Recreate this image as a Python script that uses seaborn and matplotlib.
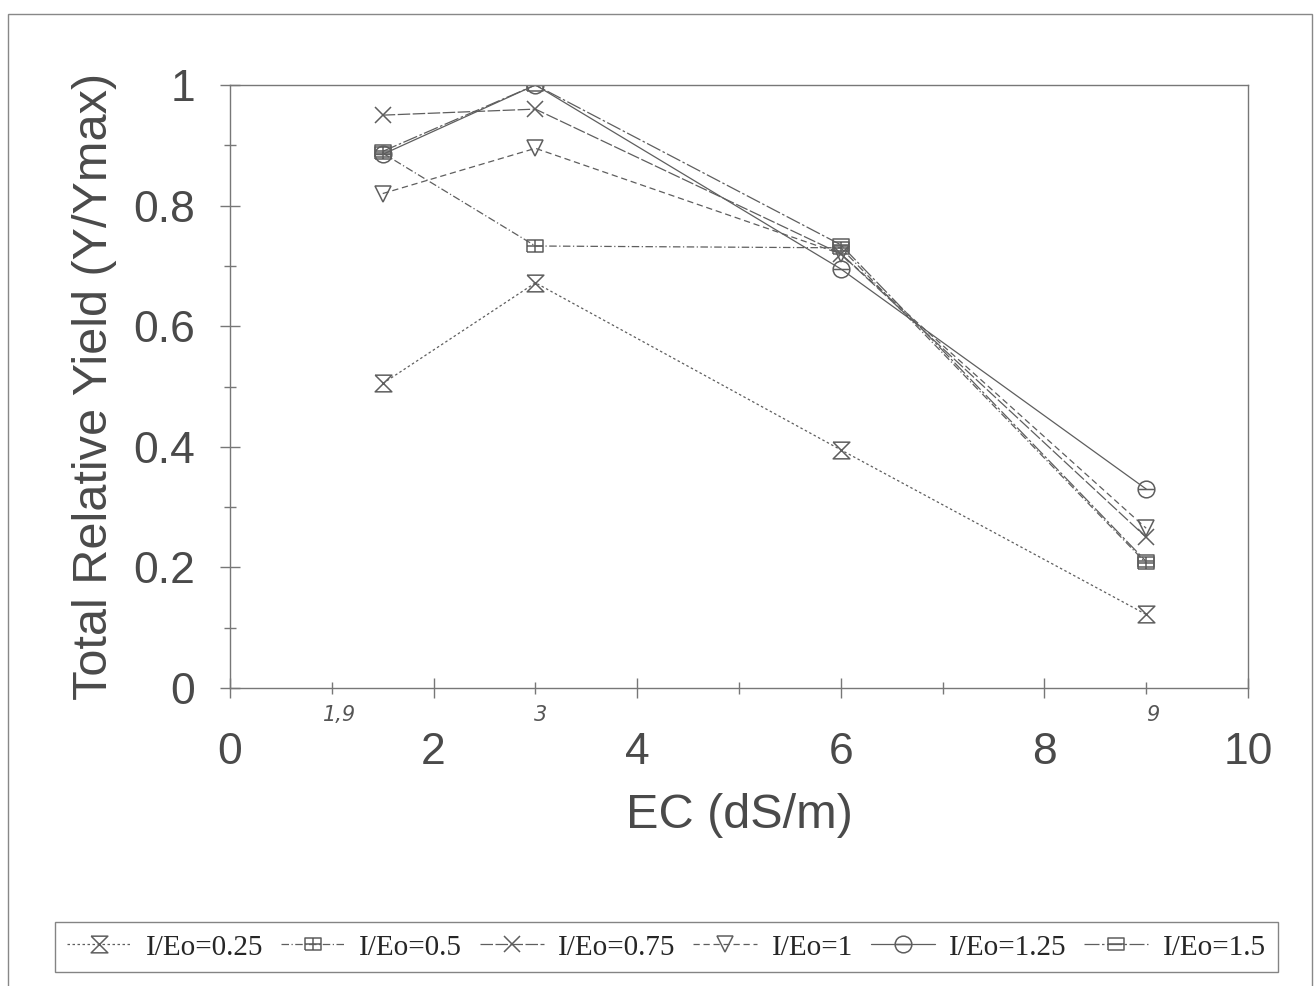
import numpy as np
import pandas as pd
import matplotlib
matplotlib.use("Agg")
import matplotlib.pyplot as plt
from matplotlib.path import Path
from matplotlib.patches import Rectangle
import seaborn as sns

# values
ec = [1.5, 3, 6, 9]
series_names = ["I/Eo=0.25", "I/Eo=0.5", "I/Eo=0.75", "I/Eo=1", "I/Eo=1.25", "I/Eo=1.5"]
y_025 = [0.505, 0.672, 0.395, 0.122]
y_050 = [0.887, 0.733, 0.730, 0.207]
y_075 = [0.950, 0.960, 0.720, 0.250]
y_100 = [0.820, 0.895, 0.720, 0.265]
y_125 = [0.885, 1.000, 0.695, 0.330]
y_150 = [0.890, 1.000, 0.735, 0.210]

data = pd.DataFrame({
    "EC": ec * 6,
    "yield": y_025 + y_050 + y_075 + y_100 + y_125 + y_150,
    "series": np.repeat(series_names, len(ec)),
})

# marker shapes from the original scan
M, L = Path.MOVETO, Path.LINETO
hourglass = Path([(-1, 1), (1, 1), (-1, -1), (1, -1), (-1, 1)], [M, L, L, L, L])
sq = [(-1, -0.75), (1, -0.75), (1, 0.75), (-1, 0.75), (-1, -0.75)]
sq_cross = Path(sq + [(-1, 0), (1, 0), (0, -0.75), (0, 0.75)],
                [M, L, L, L, L, M, L, M, L])
sq_line = Path(sq + [(-1, 0), (1, 0)], [M, L, L, L, L, M, L])
circ = Path.make_compound_path(Path.unit_circle(), Path([(-1, 0), (1, 0)], [M, L]))

markers = [hourglass, sq_cross, "x", "v", circ, sq_line]
styles = [(0, (2, 2)), (0, (6, 2, 1, 2)), (0, (10, 2)), (0, (5, 3)), "-", (0, (12, 2, 2, 2))]
ink = "#5e5e5e"

sns.set_style("white")
fig = plt.figure(figsize=(13.16, 9.86), dpi=100)
ax = fig.add_axes([0.1748, 0.3022, 0.7735, 0.6116])

for name, mk, ls in zip(series_names, markers, styles):
    sns.lineplot(data=data[data["series"] == name], x="EC", y="yield", ax=ax,
                 color=ink, linewidth=0.9, linestyle=ls, marker=mk,
                 markersize=12, markerfacecolor="none", markeredgecolor=ink,
                 markeredgewidth=1.1, errorbar=None, legend=False)

ax.set_xlim(0, 10)
ax.set_ylim(0, 1)
ax.set_xticks([0, 2, 4, 6, 8, 10])
ax.set_xticks(range(11), minor=True)
ax.set_yticks([0, 0.2, 0.4, 0.6, 0.8, 1])
ax.set_yticklabels(["0", "0.2", "0.4", "0.6", "0.8", "1"])
ax.set_yticks(np.arange(0, 1.01, 0.1), minor=True)
ax.tick_params(which="both", bottom=True, left=True, direction="inout", colors="#777777",
               width=1, labelsize=32, labelcolor="#4a4a4a")
ax.tick_params(which="major", length=14, pad=18)
ax.tick_params(which="minor", length=8)
ax.tick_params(axis="x", which="major", pad=25)
for lab in ax.get_xticklabels() + ax.get_yticklabels():
    lab.set_fontfamily("Liberation Sans")
for sp in ax.spines.values():
    sp.set_color("#777777")
    sp.set_linewidth(1.0)

ax.set_xlabel("EC (dS/m)", fontsize=35, family="Liberation Sans", color="#4a4a4a", labelpad=14)
ax.set_ylabel("Total Relative Yield (Y/Ymax)", fontsize=35, family="Liberation Sans",
              color="#4a4a4a", labelpad=12)

# handwritten notes on the scan
for xv, txt in [(1.08, "1,9"), (3.05, "3"), (9.06, "9")]:
    ax.text(xv, -0.045, txt, fontsize=15, color="#555555", ha="center", va="center",
            style="italic", family="DejaVu Sans", clip_on=False)

handles = ax.get_lines()[:6]
fig.legend(handles, series_names, loc="lower left", ncol=6, mode="expand",
           bbox_to_anchor=(0.042, 0.014, 0.929, 0.055), frameon=True, fancybox=False,
           edgecolor="#666666", handlelength=2.2, handletextpad=0.5,
           prop={"family": "Liberation Serif", "size": 21}, borderaxespad=0)

# outer border of the scanned page
fig.patches.append(Rectangle((0.006, -0.01), 0.991, 0.996, transform=fig.transFigure,
                             fill=False, edgecolor="#888888", linewidth=1.0))

fig.savefig("out.png", dpi=100)
